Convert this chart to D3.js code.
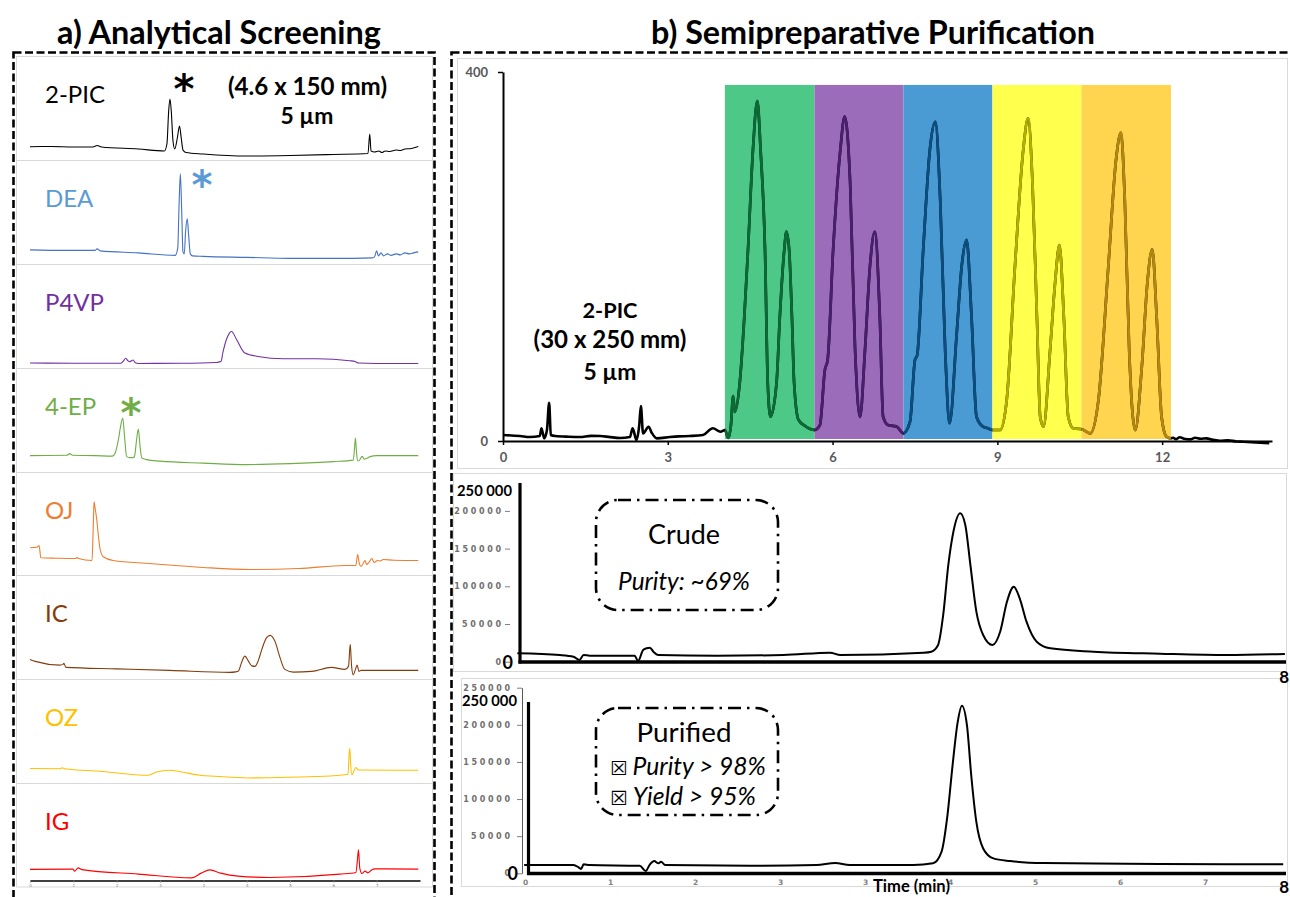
<!DOCTYPE html>
<html>
<head>
<meta charset="utf-8">
<title>Analytical screening and semipreparative purification</title>
<script src="https://cdn.jsdelivr.net/npm/d3@7/dist/d3.min.js"></script>
<style>
  html, body { margin: 0; padding: 0; background: #fff; }
  svg { display: block; }
</style>
</head>
<body>
<svg id="figure" width="1290" height="897"></svg>
<script>
// ---------------- data ----------------
// a) analytical screening, one chromatogram per mobile-phase additive
// points are [time (min), detector signal (a.u.)]
const additives = ["2-PIC", "DEA", "P4VP", "4-EP", "OJ", "IC", "OZ", "IG"];
const hitAdditives = ["2-PIC", "DEA", "4-EP"];

const trace2PIC = [[0,9.3],[0.5,9.5],[1.0,9],[1.45,9],[1.55,10.5],[1.65,9],[2.5,7],[3.1,5],[3.16,12],[3.2,45],[3.23,57],[3.26,45],[3.3,15],[3.34,7],[3.4,18],[3.45,30],[3.49,18],[3.53,6],[3.6,3.5],[4.0,2],[5.0,0],[6.0,0.5],[7.0,1.5],[7.8,2.5],[7.84,22],[7.87,5],[7.95,4],[8.05,5],[8.12,3.5],[8.2,5],[8.3,4.5],[8.45,6],[8.55,5.5],[8.65,7],[8.8,7.5],[8.96,9.5]];
const traceDEA = [[0,10],[0.8,9.5],[1.5,9.5],[1.55,11],[1.62,9],[2.5,7],[3.35,4.5],[3.41,12],[3.44,55],[3.47,86],[3.5,50],[3.53,8],[3.56,6],[3.59,28],[3.63,41],[3.66,25],[3.7,6],[3.75,4],[4.0,3.5],[5.0,2.5],[6.0,1.5],[7.0,1.5],[7.9,2],[7.95,3],[8.0,9],[8.04,4],[8.1,7],[8.16,4],[8.25,6],[8.33,4.5],[8.45,6],[8.55,5],[8.65,7],[8.75,6],[8.85,7],[8.96,8]];
const traceP4VP = [[0,0.7],[1.0,0.5],[2.1,0.5],[2.16,3],[2.21,5.5],[2.26,3],[2.3,2],[2.34,3],[2.38,3.7],[2.43,1],[2.5,0.3],[3.5,0.5],[4.3,1.3],[4.41,2.5],[4.45,11],[4.56,27.3],[4.65,32.3],[4.77,24],[4.96,10.7],[5.26,7.3],[5.85,5],[6.62,5],[7.38,3],[7.5,2.3],[7.58,0.7],[8.0,0.3],[8.96,0.3]];
const trace4EP = [[0,12],[0.85,12.3],[0.92,14],[0.98,12.3],[1.5,12],[1.9,11.5],[1.96,14],[2.04,28],[2.09,41.3],[2.14,49.7],[2.18,32],[2.23,11],[2.3,10],[2.38,10],[2.41,11],[2.46,28],[2.5,38.7],[2.54,21.3],[2.58,9.7],[2.69,8],[3.0,6.5],[4.0,4.5],[5.0,3],[6.0,4],[7.0,6],[7.46,7.5],[7.49,20],[7.51,29.7],[7.53,18],[7.56,7],[7.59,6.7],[7.64,10],[7.67,11.3],[7.71,8.5],[7.78,9.5],[7.85,11],[8.0,12],[8.96,12]];
const traceOJ = [[0,23.7],[0.16,24.3],[0.21,26],[0.25,13.7],[0.6,13.3],[1.0,13],[1.06,13],[1.08,14],[1.12,13],[1.43,11],[1.45,30],[1.47,62],[1.48,69.7],[1.5,64],[1.54,52],[1.58,35],[1.62,22],[1.69,14.7],[1.92,11],[2.77,8],[4.0,4],[5.08,2],[6.2,3],[7.27,6],[7.52,6],[7.56,17],[7.6,8],[7.64,5],[7.7,9],[7.73,11],[7.77,7],[7.82,9],[7.89,13],[7.94,9],[8.02,11],[8.08,10.5],[8.15,12],[8.4,11.3],[8.96,11]];
const traceIC = [[0,16],[0.12,14],[0.69,10.3],[0.76,11],[0.78,12],[0.83,8],[2.0,6.5],[3.23,5],[4.6,3],[4.75,3.5],[4.81,4.3],[4.88,12.7],[4.96,19.3],[5.04,14.3],[5.12,9.5],[5.19,9],[5.27,15],[5.35,26],[5.46,37.7],[5.54,40],[5.65,34.3],[5.77,17.7],[5.88,6],[6.08,3.3],[6.5,4],[6.95,8],[7.27,6],[7.35,9],[7.39,31],[7.42,10],[7.46,0.5],[7.51,6],[7.55,10.3],[7.59,4],[7.64,5],[8.96,5]];
const traceOZ = [[0,10.7],[0.7,10.5],[0.74,11.5],[0.8,10.5],[1.62,8],[2.73,4],[2.92,7.3],[3.23,9],[3.5,7.3],[3.92,4],[4.27,3],[5.03,1.3],[6.0,2],[6.92,3.3],[7.34,5],[7.36,22],[7.38,31],[7.4,15],[7.43,4.3],[7.47,8],[7.52,11.7],[7.57,9.5],[7.62,9.3],[8.96,9]];
const traceIG = [[0,13.7],[0.99,14],[1.03,12],[1.11,15.3],[1.2,13.5],[2.5,9],[3.73,5.3],[3.95,10],[4.15,13.3],[4.4,10],[4.8,7],[5.54,5.7],[7.15,9],[7.52,10.7],[7.56,25],[7.58,33.3],[7.61,15],[7.66,9.7],[7.73,12],[7.8,10.3],[7.89,13.3],[7.96,14.3],[8.96,14]];
const screeningTraces = [trace2PIC, traceDEA, traceP4VP, trace4EP, traceOJ, traceIC, traceOZ, traceIG];
const screeningTimeTicks = [0, 1, 2, 3, 4, 5, 6, 7, 8];
const screeningTickLabels = ["0", "1", "2", "3", "3", "4", "5", "6", "7"];

// b) stacked-injection semipreparative run, [time (min), signal (mAU)]
const prepTrace = [[0,6.5],[0.31,5.4],[0.49,4.3],[0.67,5.4],[0.7,13.8],[0.75,2.9],[0.8,11.9],[0.84,41.5],[0.87,6.5],[0.95,5.4],[1.2,4.6],[1.4,4.3],[1.6,5.6],[1.77,5.4],[1.95,4.2],[2.13,3.3],[2.31,4.3],[2.36,13.8],[2.43,1.1],[2.48,17],[2.51,38],[2.55,8.3],[2.65,15.5],[2.71,8.7],[2.8,2.9],[3.04,4.3],[3.2,5],[3.4,5.4],[3.64,6.5],[3.82,13.8],[3.96,10.1],[4.04,11.9],
  [4.1,3.3],[4.15,17.3],[4.19,48.8],[4.22,31.4],[4.31,62.9],[4.39,131],[4.46,207],[4.55,315],[4.63,368.6],[4.69,315],[4.77,207],[4.82,62.9],[4.87,26.3],[4.98,62.9],[5.04,134.7],[5.12,207],[5.16,226.9],[5.21,207],[5.26,134.7],[5.3,62.9],[5.38,22.8],[5.5,16.3],[5.67,11.9],
  [5.77,17.3],[5.86,77],[5.91,87.8],[6.01,207],[6.14,315],[6.22,351.6],[6.32,279.7],[6.41,98.6],[6.5,26],[6.59,98.6],[6.68,189],[6.77,226.9],[6.86,134.7],[6.92,26.3],[7.01,17.3],[7.17,15.5],[7.29,8.3],
  [7.41,20.9],[7.5,87.8],[7.54,93],[7.65,207],[7.77,315],[7.87,346],[7.96,261],[8.05,98.6],[8.13,19.2],[8.26,116.7],[8.35,189],[8.44,217.9],[8.53,134.7],[8.62,26.3],[8.74,15.5],[8.83,13.8],[8.91,11.9],
  [9.05,11.9],[9.17,44.4],[9.32,189],[9.47,315],[9.56,349.8],[9.64,279.3],[9.72,134.7],[9.78,26.3],[9.84,15.5],[9.96,98.6],[10.05,171],[10.13,212.4],[10.21,134.7],[10.29,26.3],[10.38,13.8],[10.54,12.7],
  [10.69,8.3],[10.84,44.4],[11.02,189],[11.16,304.6],[11.25,334.2],[11.32,261.2],[11.4,98.6],[11.51,11.9],[11.63,80.5],[11.73,171],[11.82,207.8],[11.9,134.7],[11.99,26.3],[12.08,4.7],[12.16,2.9],
  [12.2,3.5],[12.25,2],[12.32,4],[12.4,2.5],[12.51,1.8],[12.6,3.5],[12.7,2.5],[12.81,2.9],[12.9,1.5],[13.05,0.3],[13.2,0.8],[13.35,-0.5],[13.48,-0.8],[13.7,-1.5],[13.95,-2.5]];
const prepFractionBounds = [4.04, 5.67, 7.29, 8.91, 10.53, 12.16];
const prepFractionTop = 386;
const prepTimeTicks = [0, 3, 6, 9, 12];
const prepSignalTicks = [0, 400];

// analytical check of the crude sample and the pooled fractions, [time (min), area counts]
const crudeTrace = [[-0.09,11140],[0.41,8890],[0.57,6630],[0.64,2250],[0.69,8890],[0.76,7960],[1.29,7960],[1.33,930],[1.39,15520],[1.43,17770],[1.47,18570],[1.51,13260],[1.57,8890],[2.26,7960],[3.04,8890],[3.59,11940],[3.71,8890],[4.69,11940],[4.78,13260],[4.86,22150],[4.92,61940],[4.98,128250],[5.04,172420],[5.12,196820],[5.18,181310],[5.24,128250],[5.31,66320],[5.39,35410],[5.5,22150],[5.59,39790],[5.67,79580],[5.75,99470],[5.82,84090],[5.9,53050],[6.02,26530],[6.18,17770],[6.69,13260],[7.47,10610],[8.26,8890],[8.94,10210]];
const purifiedTrace = [[-0.01,11130],[0.57,11130],[0.63,8040],[0.66,5760],[0.69,12060],[0.76,11130],[1.35,10190],[1.42,3080],[1.47,12060],[1.52,16490],[1.57,13400],[1.6,15550],[1.65,11130],[2.65,10190],[3.43,11130],[3.65,13810],[3.82,11130],[4.57,11130],[4.8,13400],[4.9,28950],[4.97,78150],[5.03,145180],[5.09,203220],[5.14,225610],[5.2,198800],[5.25,131770],[5.31,69170],[5.39,33510],[5.51,20110],[5.71,16490],[6.1,13810],[7.08,12870],[8.26,12060],[8.92,12060]];
const crudeSignalTicks = [0, 50000, 100000, 150000, 200000];
const purifiedSignalTicks = [0, 50000, 100000, 150000, 200000, 250000];
const analyticTimeTicks = [0, 1, 2, 3, 4, 5, 6, 7, 8];
const analyticTickLabels = ["0", "1", "2", "3", "3", "4", "5", "6", "7"];

// ---------------- styles ----------------
const SANS = "Lato, 'Open Sans', 'DejaVu Sans', sans-serif";
const EXCEL = "'DejaVu Sans', Verdana, sans-serif";
const additiveTextColors = ["#000000", "#5b9bd5", "#7030a0", "#70ad47", "#ed7d31", "#843c0c", "#ffc000", "#ff0000"];
const additiveTraceColors = ["#000000", "#4472c4", "#7030a0", "#70ad47", "#ed7d31", "#843c0c", "#ffc000", "#ff0000"];
const fractionFills = ["#4ec886", "#9b6cb9", "#4a9ad3", "#ffff4d", "#ffd44f"];
const fractionStrokes = ["#0b6a35", "#4a1f6e", "#0c4e7f", "#b3ae00", "#b3870f"];
const GRID = "#d9d9d9";

const svg = d3.select("#figure");

// scale a text element so its rendered width equals the given width
function fitWidth(sel, width) {
  const len = sel.node().getComputedTextLength();
  const size = parseFloat(sel.attr("font-size"));
  if (len > 0) sel.attr("font-size", (size * width / len).toFixed(2));
  return parseFloat(sel.attr("font-size"));
}

function addText(g, x, y, str, size, opts = {}) {
  const t = g.append("text")
    .attr("x", x).attr("y", y)
    .attr("font-family", opts.family || SANS)
    .attr("font-size", size)
    .attr("font-weight", opts.weight || "normal")
    .attr("font-style", opts.style || "normal")
    .attr("fill", opts.fill || "#000")
    .attr("text-anchor", opts.anchor || "start")
    .text(str);
  if (opts.width) fitWidth(t, opts.width);
  return t;
}

// ---------------- titles ----------------
addText(svg, 219, 44, "a) Analytical Screening", 30, { weight: "bold", anchor: "middle", width: 324 });
addText(svg, 873, 44, "b) Semipreparative Purification", 30, { weight: "bold", anchor: "middle", width: 444 });

// ---------------- a) analytical screening ----------------
const gA = svg.append("g");
const xScreen = d3.scaleLinear().domain([0, 9]).range([30, 420]);
const rowTop = d3.scaleLinear().domain([0, 8]).range([56, 887]);

gA.append("rect").attr("x", 16.5).attr("y", 56.5).attr("width", 416).attr("height", 830.5)
  .attr("fill", "none").attr("stroke", GRID);

let labelSize = null;
additives.forEach((name, i) => {
  const top = rowTop(i);
  if (i > 0) {
    gA.append("line").attr("x1", 16.5).attr("x2", 432.5)
      .attr("y1", Math.round(top) + 0.5).attr("y2", Math.round(top) + 0.5)
      .attr("stroke", GRID);
  }
  const ySig = d3.scaleLinear().domain([0, 100]).range([top + 100, top]);
  const line = d3.line().x(d => xScreen(d[0])).y(d => ySig(d[1])).curve(d3.curveMonotoneX);
  gA.append("path").datum(screeningTraces[i])
    .attr("d", line).attr("fill", "none")
    .attr("stroke", additiveTraceColors[i]).attr("stroke-width", 1.1)
    .attr("stroke-linejoin", "round");
  const t = addText(gA, 45, top + 47, name, 24, { fill: additiveTextColors[i] });
  if (i === 0) labelSize = fitWidth(t, 60);
  else t.attr("font-size", labelSize);
});

// hit markers
const starPos = { "2-PIC": [184, 103, "#000000"], "DEA": [202, 199, "#5b9bd5"], "4-EP": [131, 427, "#70ad47"] };
hitAdditives.forEach(name => {
  const [x, y, c] = starPos[name];
  addText(gA, x, y, "*", 40, { family: "'DejaVu Sans', sans-serif", weight: "bold", fill: c, anchor: "middle" });
});

addText(gA, 307.5, 95, "(4.6 x 150 mm)", 20, { weight: "bold", anchor: "middle", width: 159 });
addText(gA, 307, 124, "5 µm", 20, { weight: "bold", anchor: "middle", width: 53 });

const axScreen = d3.axisBottom(xScreen).tickValues(screeningTimeTicks)
  .tickFormat((d, i) => screeningTickLabels[i]).tickSize(2).tickSizeOuter(0).tickPadding(1.5);
const gAx = gA.append("g").attr("transform", "translate(0,880.5)").call(axScreen);
gAx.select(".domain").attr("stroke", "#000").attr("stroke-width", 1.6);
gAx.selectAll(".tick line").attr("stroke", "#7f7f7f");
gAx.selectAll(".tick text").attr("font-size", 4).attr("font-family", EXCEL).attr("fill", "#7f7f7f");

// ---------------- b) semipreparative run ----------------
const gB = svg.append("g");
const xPrep = d3.scaleLinear().domain([0, 14]).range([503, 1272]);
const yPrep = d3.scaleLinear().domain([0, 400]).range([441, 72]);

gB.append("rect").attr("x", 457.5).attr("y", 58.5).attr("width", 830).attr("height", 410)
  .attr("fill", "none").attr("stroke", GRID);

// collected fraction windows
const fractions = d3.range(prepFractionBounds.length - 1).map(i => ({
  i, t0: prepFractionBounds[i], t1: prepFractionBounds[i + 1]
}));
gB.selectAll("rect.fraction").data(fractions).join("rect")
  .attr("class", "fraction")
  .attr("x", d => xPrep(d.t0)).attr("width", d => xPrep(d.t1) - xPrep(d.t0))
  .attr("y", yPrep(prepFractionTop)).attr("height", yPrep(0) - yPrep(prepFractionTop) - 2)
  .attr("fill", d => fractionFills[d.i]);

const prepLine = d3.line().x(d => xPrep(d[0])).y(d => yPrep(d[1])).curve(d3.curveMonotoneX);
gB.append("path").datum(prepTrace).attr("d", prepLine)
  .attr("fill", "none").attr("stroke", "#000").attr("stroke-width", 2.6).attr("stroke-linejoin", "round");

const defs = svg.append("defs");
fractions.forEach(f => {
  defs.append("clipPath").attr("id", "frac" + f.i).append("rect")
    .attr("x", xPrep(f.t0)).attr("width", xPrep(f.t1) - xPrep(f.t0))
    .attr("y", 60).attr("height", 400);
  gB.append("path").datum(prepTrace).attr("d", prepLine)
    .attr("clip-path", `url(#frac${f.i})`)
    .attr("fill", "none").attr("stroke", fractionStrokes[f.i]).attr("stroke-width", 2.8)
    .attr("stroke-linejoin", "round");
});

const gPx = gB.append("g").attr("transform", `translate(0,${yPrep(0)})`)
  .call(d3.axisBottom(xPrep).tickValues(prepTimeTicks).tickSize(4).tickSizeOuter(0).tickPadding(8));
const gPy = gB.append("g").attr("transform", `translate(${xPrep(0)},0)`)
  .call(d3.axisLeft(yPrep).tickValues(prepSignalTicks).tickSize(5).tickSizeOuter(0).tickPadding(10));
[gPx, gPy].forEach(g => {
  g.select(".domain").attr("stroke", "#000").attr("stroke-width", 2);
  g.selectAll(".tick line").attr("stroke", "#000").attr("stroke-width", 1.5);
  g.selectAll(".tick text").attr("font-family", SANS).attr("font-weight", "bold")
    .attr("font-size", 13).attr("fill", "#595959");
});

addText(gB, 610, 318, "2-PIC", 22, { weight: "bold", anchor: "middle", width: 55 });
addText(gB, 610, 348, "(30 x 250 mm)", 22, { weight: "bold", anchor: "middle", width: 153 });
addText(gB, 610, 380, "5 µm", 22, { weight: "bold", anchor: "middle", width: 53 });

// ---------------- crude / purified analytical checks ----------------
const xAn = d3.scaleLinear().domain([0, 9]).range([525, 1290]);
const yCrude = d3.scaleLinear().domain([0, 250000]).range([661.7, 473.2]);
const yPure = d3.scaleLinear().domain([0, 250000]).range([873.3, 687.7]);

gB.append("rect").attr("x", 453.5).attr("y", 473.5).attr("width", 833).attr("height", 198)
  .attr("fill", "none").attr("stroke", GRID);
gB.append("rect").attr("x", 461.5).attr("y", 678.5).attr("width", 826).attr("height", 208)
  .attr("fill", "none").attr("stroke", GRID);

const plainInt = d3.format("d");
function excelAxis(g) {
  g.select(".domain").attr("stroke", "#595959").attr("stroke-width", 1);
  g.selectAll(".tick line").attr("stroke", "#7f7f7f");
  g.selectAll(".tick text").attr("font-family", EXCEL).attr("font-size", 8)
    .attr("font-weight", "bold").attr("fill", "#6f6f6f")
    .attr("textLength", d => plainInt(d).length * 7.8).attr("lengthAdjust", "spacing");
}
const gCy = gB.append("g").attr("transform", "translate(510,0)")
  .call(d3.axisLeft(yCrude).tickValues(crudeSignalTicks).tickFormat(plainInt)
    .tickSize(5).tickSizeOuter(0).tickPadding(4));
excelAxis(gCy);
gCy.select(".domain").remove();

const gPyA = gB.append("g").attr("transform", "translate(522,0)")
  .call(d3.axisLeft(yPure).tickValues(purifiedSignalTicks).tickFormat(plainInt)
    .tickSize(5).tickSizeOuter(0).tickPadding(7));
excelAxis(gPyA);

const gPxA = gB.append("g").attr("transform", `translate(0,${yPure(0)})`)
  .call(d3.axisBottom(xAn).tickValues(analyticTimeTicks)
    .tickFormat((d, i) => analyticTickLabels[i]).tickSize(0).tickSizeOuter(0).tickPadding(6));
gPxA.select(".domain").remove();
gPxA.selectAll(".tick text").attr("font-family", EXCEL).attr("font-size", 7.5)
  .attr("font-weight", "bold").attr("fill", "#7f7f7f");

const crudeLine = d3.line().x(d => xAn(d[0])).y(d => yCrude(d[1])).curve(d3.curveMonotoneX);
const pureLine = d3.line().x(d => xAn(d[0])).y(d => yPure(d[1])).curve(d3.curveMonotoneX);
gB.append("path").datum(crudeTrace).attr("d", crudeLine)
  .attr("fill", "none").attr("stroke", "#000").attr("stroke-width", 2).attr("stroke-linejoin", "round");
gB.append("path").datum(purifiedTrace).attr("d", pureLine)
  .attr("fill", "none").attr("stroke", "#000").attr("stroke-width", 2).attr("stroke-linejoin", "round");

// bold overlay axes with their end labels
function boldAxes(x0, yTop, yBase, xEnd, yLabelEnd, topLabelY, zeroLabelY, endLabelY) {
  gB.append("line").attr("x1", x0).attr("x2", x0).attr("y1", yTop).attr("y2", yBase + 1.5)
    .attr("stroke", "#000").attr("stroke-width", 3.2);
  gB.append("line").attr("x1", x0 - 1.5).attr("x2", xEnd).attr("y1", yBase).attr("y2", yBase)
    .attr("stroke", "#000").attr("stroke-width", 3.6);
  addText(gB, yLabelEnd, topLabelY, "250 000", 15, { weight: "bold", anchor: "end", width: 55 });
  addText(gB, yLabelEnd + 1, zeroLabelY, "0", 18, { weight: "bold", anchor: "end" });
  addText(gB, 1289, endLabelY, "8", 17, { weight: "bold", anchor: "end" });
}
boldAxes(520, 483, 662, 1286, 512, 496, 669, 683);
boldAxes(528.5, 702, 873.5, 1286, 517, 706, 880, 893);
addText(gB, 873, 892, "Time (min)", 16, { weight: "bold", width: 77 });

// annotation boxes
function noteBox(x, y, w, h) {
  gB.append("rect").attr("x", x).attr("y", y).attr("width", w).attr("height", h)
    .attr("rx", 22).attr("ry", 22).attr("fill", "none")
    .attr("stroke", "#000").attr("stroke-width", 2.6)
    .attr("stroke-dasharray", "13,6,2.5,6");
}
noteBox(596, 500, 182, 110);
noteBox(596, 708, 182, 107);
addText(gB, 684, 544, "Crude", 26, { anchor: "middle", width: 72 });
addText(gB, 684, 590, "Purity: ~69%", 21, { style: "italic", anchor: "middle", width: 132 });
addText(gB, 684, 742, "Purified", 26, { anchor: "middle", width: 95 });

function checkLine(y, str, width) {
  const t = gB.append("text").attr("x", 610).attr("y", y)
    .attr("font-family", SANS).attr("font-size", 21);
  t.append("tspan").attr("font-family", "'DejaVu Sans', sans-serif").attr("font-size", "0.8em").text("☒");
  t.append("tspan").attr("font-style", "italic").attr("dx", "0.2em").text(str);
  fitWidth(t, width);
  return t;
}
checkLine(775, "Purity > 98%", 151);
checkLine(805, "Yield > 95%", 141);

// ---------------- dashed panel frames ----------------
svg.append("rect").attr("x", 13.5).attr("y", 52.5).attr("width", 421).attr("height", 870)
  .attr("fill", "none").attr("stroke", "#000").attr("stroke-width", 2.6).attr("stroke-dasharray", "8,3.5");
svg.append("rect").attr("x", 451.5).attr("y", 52.5).attr("width", 845).attr("height", 870)
  .attr("fill", "none").attr("stroke", "#000").attr("stroke-width", 2.6).attr("stroke-dasharray", "8,3.5");
</script>
</body>
</html>
